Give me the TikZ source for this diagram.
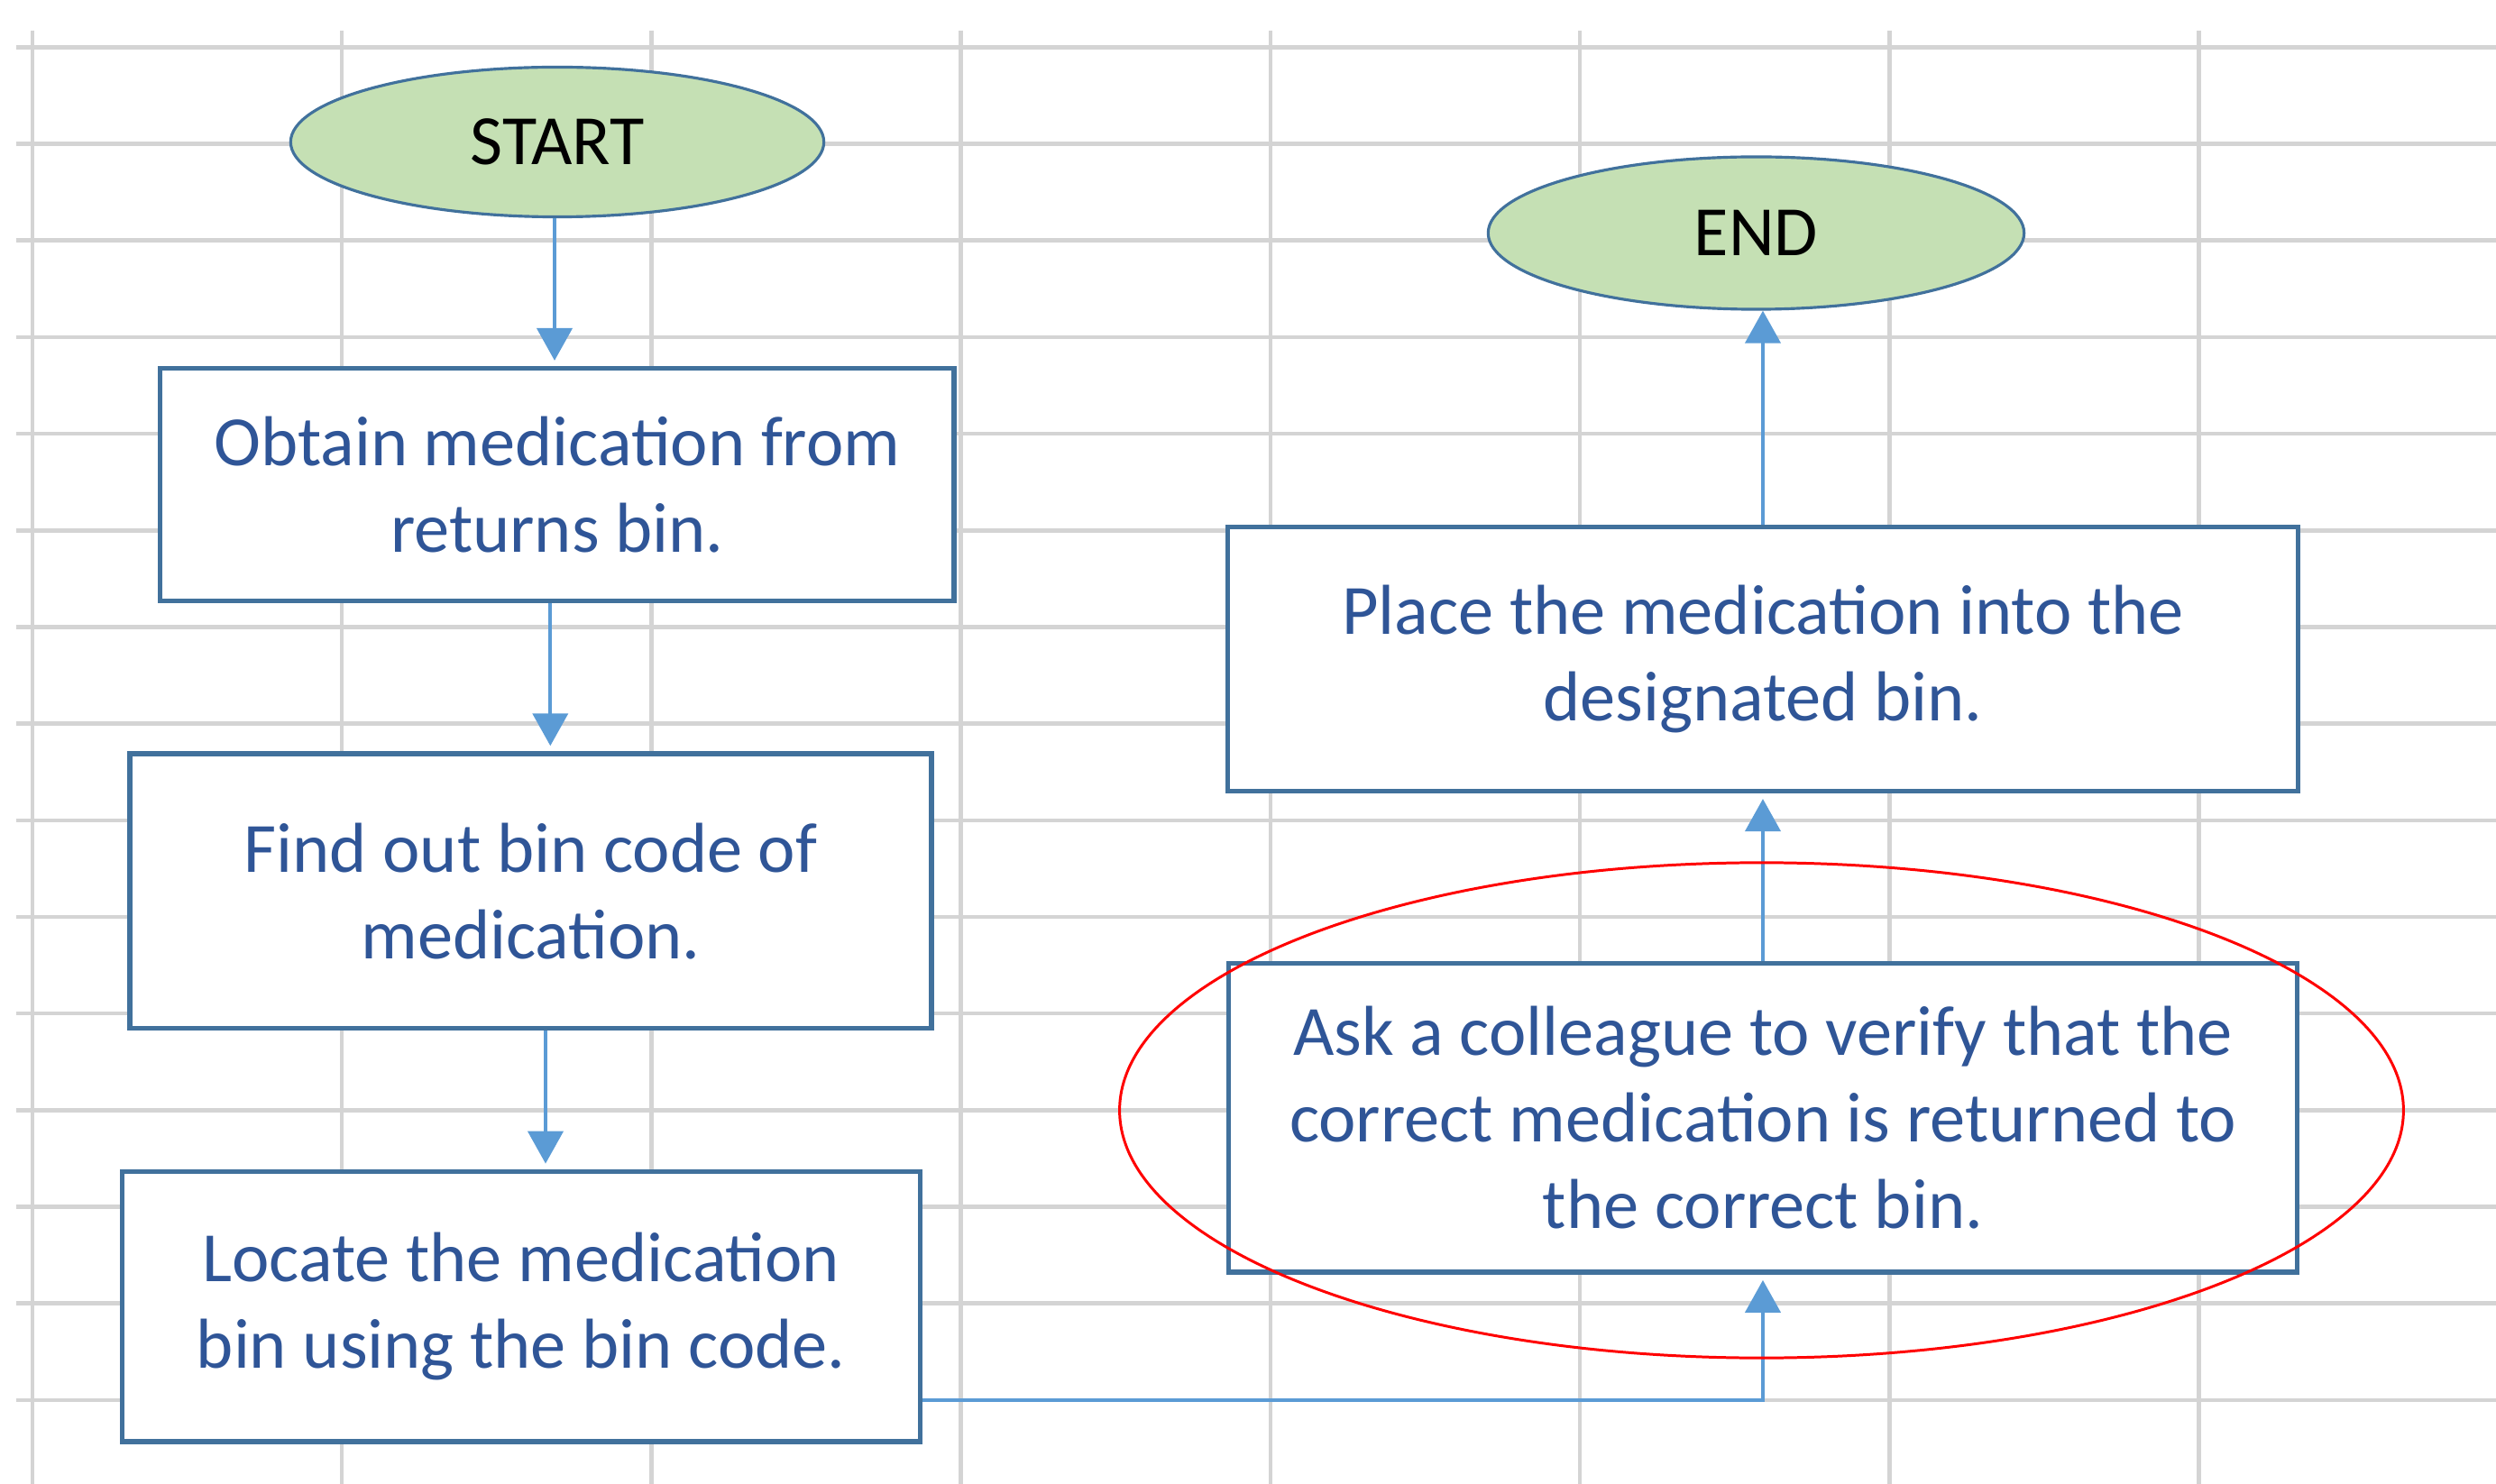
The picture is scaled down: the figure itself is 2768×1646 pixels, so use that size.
\documentclass[tikz,border=0pt]{standalone}
\usepackage{fontspec}
\setmainfont{Carlito}
\usetikzlibrary{arrows.meta,shapes.geometric,calc}
\definecolor{gridc}{HTML}{D4D4D4}
\definecolor{boxc}{HTML}{41719C}
\definecolor{arrc}{HTML}{5B9BD5}
\definecolor{txc}{HTML}{2F5597}
\definecolor{ellc}{HTML}{C5E0B4}
\definecolor{hlc}{HTML}{FF0000}
\begin{document}
\begin{tikzpicture}[x=0.01cm,y=-0.01cm,
  txtfont/.style={font=\fontsize{22.3}{27.3}\selectfont},
  box/.style={rectangle, draw=boxc, line width=1.55pt, fill=white, inner sep=0pt,
    align=center, text=txc, txtfont},
  term/.style={ellipse, draw=boxc, line width=0.9pt, fill=ellc, inner sep=0pt,
    text=black, txtfont},
  arr/.style={draw=arrc, line width=1.2pt, -{Triangle[length=3.6mm,width=3.9mm]},
    shorten >=0.6mm},
  gridline/.style={draw=gridc, line width=1.3pt},
  hl/.style={draw=hlc, line width=0.85pt}]
\useasboundingbox (0,0) rectangle (2768,1646);
% grid
\foreach \k in {0,...,7} {
  \draw[gridline] ({36+343.2*\k},34) -- ({36+343.2*\k},1646);
}
\foreach \k in {0,...,14} {
  \draw[gridline] (18,{52.3+107.19*\k}) -- (2768,{52.3+107.19*\k});
}
% terminals
\node[term, minimum width=5.91cm, minimum height=1.66cm] (start) at (618,157.5) {START};
\node[term, minimum width=5.94cm, minimum height=1.69cm] (end) at (1947.5,258.5) {END};
% process boxes
\node[box, minimum width=8.80cm, minimum height=2.575cm] (b1) at (617.9,537.5)
  {Obtain medication from\\returns bin.};
\node[box, minimum width=8.886cm, minimum height=3.042cm] (b2) at (588.6,988.2)
  {Find out bin code of\\medication.};
\node[box, minimum width=8.843cm, minimum height=2.995cm] (b3) at (577.9,1449.2)
  {Locate the medication\\bin using the bin code.};
\node[box, minimum width=11.845cm, minimum height=3.427cm] (b4) at (1955,1239.7)
  {Ask a colleague to verify that the\\correct medication is returned to\\the correct bin.};
\node[box, minimum width=11.865cm, minimum height=2.928cm] (b5) at (1955,730.9)
  {Place the medication into the\\designated bin.};
% connectors
\draw[arr] ([xshift=-0.03cm]start.south) -- ([xshift=-0.03cm]start.south |- b1.north);
\draw[arr] ([xshift=-0.076cm]b1.south) -- ([xshift=-0.076cm]b1.south |- b2.north);
\draw[arr] ([xshift=0.164cm]b2.south) -- ([xshift=0.164cm]b2.south |- b3.north);
\draw[arr] ([yshift=-1.04cm]b3.east) -| (b4.south);
\draw[arr] (b4.north) -- (b5.south);
\draw[arr, shorten >=0pt] (b5.north) -- (b5.north |- end.south);
% highlight ellipse
\node[ellipse, hl, minimum width=14.23cm, minimum height=5.49cm, inner sep=0pt] (hlell) at (1953.5,1231.5) {};
\end{tikzpicture}
\end{document}
